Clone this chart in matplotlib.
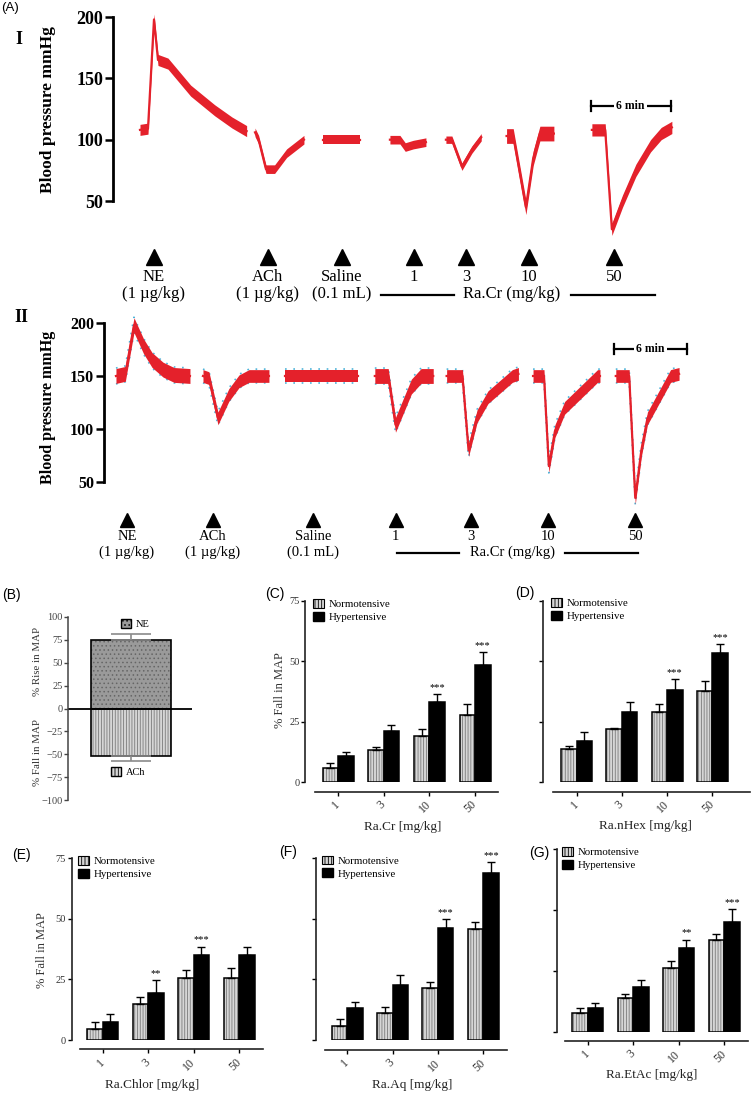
import numpy as np
import matplotlib.pyplot as plt
from matplotlib.patches import Patch
from matplotlib.transforms import blended_transform_factory

W, H = 751, 1093
RED = '#e4212b'
CYAN = '#4fb4da'
SERIF = 'Liberation Serif'
SANS = 'Liberation Sans'
plt.rcParams['font.family'] = SERIF
plt.rcParams['hatch.linewidth'] = 0.6

# ---------------- data ----------------
# (A) injections
inj_names = ['NE', 'ACh', 'Saline', '1', '3', '10', '50']
inj_doses = ['(1 µg/kg)', '(1 µg/kg)', '(0.1 mL)', '', '', '', '']

# (A-I) normotensive recording, key points (time in min, mmHg)
tr1_t = [[2.4, 3.0, 3.45, 3.75, 4.5, 6.2, 8.0, 9.3, 10.4],
         [11.03, 11.3, 11.85, 12.5, 13.4, 14.7],
         [16.1, 18.9],
         [21.15, 21.9, 22.3, 22.9, 23.85],
         [25.35, 25.8, 26.55, 27.3, 28.0],
         [29.9, 30.4, 31.35, 31.9, 32.4, 33.45],
         [36.3, 37.3, 37.8, 38.6, 39.6, 40.7, 41.5, 42.3]]
tr1_bp = [[108, 109, 198, 165, 162, 140, 124, 114, 107],
          [106, 100, 76, 76, 89, 100],
          [100, 100],
          [100, 100, 94, 96, 98],
          [100, 100, 78, 92, 102],
          [103, 103, 45, 85, 105, 105],
          [108, 108, 27, 50, 75, 95, 105, 110]]
tr1_band = [4.5, 3.5, 3.5, 3.5, 3.0, 6.0, 5.0]
tr1_inj = [3.45, 12.0, 17.55, 22.95, 26.85, 31.6, 37.95]

# (A-II) hypertensive recording
tr2_t = [[1.23, 2.0, 2.71, 3.5, 4.2, 5.1, 6.0, 7.31],
         [8.38, 8.87, 9.61, 10.5, 11.34, 12.16, 13.8],
         [15.12, 21.1],
         [22.5, 23.6, 24.2, 25.5, 26.3, 27.3],
         [28.4, 29.7, 30.2, 30.9, 31.8, 33.8, 34.3],
         [35.5, 36.4, 36.8, 37.3, 38.1, 40.8, 41.0],
         [42.3, 43.4, 43.9, 44.4, 44.9, 46.8, 47.5]]
tr2_bp = [[150, 152, 198, 178, 165, 156, 151, 150],
          [150, 148, 110, 132, 145, 150, 150],
          [150, 150],
          [150, 150, 104, 140, 150, 150],
          [150, 150, 80, 112, 130, 150, 152],
          [150, 150, 65, 98, 120, 150, 150],
          [150, 150, 35, 80, 110, 150, 152]]
tr2_band = [7, 6, 6, 7, 6, 6, 6]
tr2_inj = [2.14, 9.2, 17.4, 24.2, 30.4, 36.7, 43.9]

# (B)
b_names = ['NE', 'ACh']
b_values = [75, -52]
b_err = [6, 5]

# (C)-(G)
doses = ['1', '3', '10', '50']
c_normo = [6.0, 13.3, 19.3, 27.8]
c_normo_err = [2.1, 1.4, 2.6, 4.6]
c_hyper = [10.9, 21.2, 33.0, 48.5]
c_hyper_err = [1.8, 2.5, 3.5, 5.2]
c_stars = ['', '', '***', '***']

d_normo = [13.6, 21.9, 29.2, 37.7]
d_normo_err = [1.4, 0.4, 3.0, 4.2]
d_hyper = [17.2, 28.9, 38.1, 53.3]
d_hyper_err = [3.7, 4.2, 4.4, 3.7]
d_stars = ['', '', '***', '***']

e_normo = [4.5, 14.9, 25.4, 25.4]
e_normo_err = [3.0, 3.0, 3.5, 4.4]
e_hyper = [7.3, 19.6, 35.1, 35.1]
e_hyper_err = [3.4, 5.2, 3.4, 3.4]
e_stars = ['', '**', '***', '']

f_normo = [5.9, 11.0, 21.3, 45.7]
f_normo_err = [2.6, 2.7, 2.5, 2.9]
f_hyper = [13.1, 22.7, 46.3, 68.8]
f_hyper_err = [2.7, 4.1, 3.5, 4.5]
f_stars = ['', '', '***', '***']

g_normo = [7.5, 13.7, 26.2, 37.8]
g_normo_err = [2.1, 1.7, 2.8, 2.2]
g_hyper = [9.8, 18.4, 34.4, 45.1]
g_hyper_err = [2.2, 3.0, 3.4, 5.2]
g_stars = ['', '', '**', '***']

# ---------------- figure ----------------
fig = plt.figure(figsize=(W / 100, H / 100), dpi=100)


def add_px(left, top, right, bottom):
    return fig.add_axes([left / W, 1 - bottom / H, (right - left) / W, (bottom - top) / H])


def fy(py):
    return 1 - py / H


def ftext(px, py, s, **kw):
    fig.text(px / W, fy(py), s, **kw)


def trace_panel(ax, segs_t, segs_bp, bands, inj_t, rows, bar, rng, fs, cyan):
    for t, bp, h in zip(segs_t, segs_bp, bands):
        t = np.array(t)
        bp = np.array(bp, dtype=float)
        if cyan:
            ax.plot(t, bp - h - 0.5, color=CYAN, lw=1.2, ls=(0, (1, 4)), zorder=1)
            ax.plot(t, bp + h + 0.5, color=CYAN, lw=1.2, ls=(0, (1, 4)), zorder=1)
        ax.fill_between(t, bp - h, bp + h, color=RED, lw=0, zorder=2)
        ax.plot(t, bp, color=RED, lw=1.6, zorder=2)
    for s in ['top', 'right', 'bottom']:
        ax.spines[s].set_visible(False)
    ax.spines['left'].set_bounds(50, 200)
    ax.spines['left'].set_linewidth(2.0)
    ax.set_yticks([50, 100, 150, 200])
    ax.tick_params(axis='y', length=6, width=1.8, pad=1, labelsize=fs)
    for lab in ax.get_yticklabels():
        lab.set_fontweight('bold')
    ax.set_xticks([])
    tr = blended_transform_factory(ax.transData, fig.transFigure)
    ya, y1, y2 = rows
    ax.plot(inj_t, [fy(ya)] * len(inj_t), '^', color='black', ms=fs - 1,
            transform=tr, clip_on=False)
    for t, n, d in zip(inj_t, inj_names, inj_doses):
        ax.text(t, fy(y1), n, transform=tr, ha='center', va='center', fontsize=fs - 1)
        if d:
            ax.text(t, fy(y2), d, transform=tr, ha='center', va='center', fontsize=fs - 1)
    # Ra.Cr range
    l1, l2, xt, r1, r2, yl = rng
    ax.plot([l1, l2], [fy(yl)] * 2, color='black', lw=1.6, transform=tr, clip_on=False)
    ax.plot([r1, r2], [fy(yl)] * 2, color='black', lw=1.6, transform=tr, clip_on=False)
    ax.text(xt, fy(y2), 'Ra.Cr (mg/kg)', transform=tr, ha='center', va='center', fontsize=fs - 1)
    # 6 min scale bar
    b0, by = bar
    ax.plot([b0, b0 + 6], [fy(by)] * 2, color='black', lw=1.6, transform=tr, clip_on=False)
    for xb in (b0, b0 + 6):
        ax.plot([xb, xb], [fy(by - 5), fy(by + 5)], color='black', lw=1.6,
                transform=tr, clip_on=False)
    ax.text(b0 + 3, fy(by), '6 min', transform=tr, ha='center', va='center',
            fontsize=8.5, fontweight='bold',
            bbox=dict(facecolor='white', edgecolor='none', pad=1.5))


# (A-I)
ax1 = add_px(113, 8, 700, 300)
k1 = 1.227
ax1.set_ylim(200 - (300 - 17) / k1, 200 + (17 - 8) / k1)
ax1.set_xlim((113 - 108) / 13.33, (700 - 108) / 13.33)
trace_panel(ax1, tr1_t, tr1_bp, tr1_band, tr1_inj, (257, 277, 294),
            (36.2, 106), (20.5, 25.95, 30.3, 34.7, 41.0, 295), 13, False)

# (A-II)
ax2 = add_px(104, 315, 700, 560)
k2 = 1.06
ax2.set_ylim(200 - (560 - 323) / k2, 200 + (323 - 315) / k2)
ax2.set_xlim((104 - 101) / 12.17, (700 - 101) / 12.17)
trace_panel(ax2, tr2_t, tr2_bp, tr2_band, tr2_inj, (520, 537, 552),
            (42.15, 349), (24.3, 29.4, 33.8, 38.1, 44.1, 553), 11.5, True)

ftext(1, 8, '(A)', family=SANS, fontsize=9.5, va='center')
ftext(15, 40, 'I', fontsize=13, fontweight='bold', va='center')
ftext(14, 318, 'II', fontsize=13, fontweight='bold', va='center')
ftext(48, 110, 'Blood pressure mmHg', fontsize=12.5, fontweight='bold',
      rotation=90, ha='center', va='center')
ftext(48, 407, 'Blood pressure mmHg', fontsize=11.5, fontweight='bold',
      rotation=90, ha='center', va='center')

# (B)
NORMO_FC = '#d6d6d6'
axb = add_px(68, 617, 192, 800)
axb.set_xlim((68 - 131) / 80, (192 - 131) / 80)
axb.set_ylim(-100, 100)
b_fc = ['#9a9a9a', NORMO_FC]
b_hatch = ['....', '||||||']
b_hc = ['#666666', '#7a7a7a']
for v, e, fc, hc, ht in zip(b_values, b_err, b_fc, b_hc, b_hatch):
    axb.bar(0, v, 1.0, color=fc, edgecolor=hc, hatch=ht, lw=0)
    axb.bar(0, v, 1.0, fill=False, edgecolor='black', lw=1.2)
    lo, hi = (0, e) if v > 0 else (e, 0)
    axb.errorbar(0, v, yerr=[[lo], [hi]], fmt='none', ecolor='#8a8a8a',
                 elinewidth=1.2, capsize=14.5, capthick=1.2)
axb.axhline(0, color='black', lw=1.3)
for s in ['top', 'right', 'bottom']:
    axb.spines[s].set_visible(False)
axb.spines['left'].set_linewidth(1.1)
axb.spines['left'].set_color('#444444')
axb.set_yticks(np.arange(-100, 101, 25))
axb.tick_params(axis='y', length=3, width=1, pad=1, labelsize=7.5, labelcolor='#444444',
                color='#444444')
axb.set_xticks([])
leg1 = axb.legend([Patch(facecolor='#9a9a9a', edgecolor='black', hatch='....')], [b_names[0]],
                  loc='center left', bbox_to_anchor=(121 / W, fy(624)),
                  bbox_transform=fig.transFigure, frameon=False, fontsize=7.5,
                  handlelength=1.0, handleheight=0.9, handletextpad=0.4,
                  borderpad=0, borderaxespad=0)
axb.add_artist(leg1)
axb.legend([Patch(facecolor=NORMO_FC, edgecolor='black', hatch='|||||')], [b_names[1]],
           loc='center left', bbox_to_anchor=(111 / W, fy(772)),
           bbox_transform=fig.transFigure, frameon=False, fontsize=7.5,
           handlelength=1.0, handleheight=0.9, handletextpad=0.4,
           borderpad=0, borderaxespad=0)
ftext(2, 595, '(B)', family=SANS, fontsize=10, va='center')
ftext(37, 662, '% Rise in MAP', rotation=90, ha='center', va='center', fontsize=7.8,
      color='#333333')
ftext(37, 753, '% Fall in MAP', rotation=90, ha='center', va='center', fontsize=7.8,
      color='#333333')


def bar_panel(geom, normo, nerr, hyper, herr, stars, ylabels, leg_xy):
    spine, y0, y75, xline, t1, step, xs, xe = geom
    ax = add_px(spine, y75, xe, y0)
    ax.set_xlim((spine - t1) / step, (xe - t1) / step)
    ax.set_ylim(0, 75)
    w = 15.5 / step
    x = np.arange(len(doses))
    ax.bar(x - w / 2, normo, w, color=NORMO_FC, edgecolor='#7a7a7a', hatch='||||||', lw=0)
    ax.bar(x - w / 2, normo, w, fill=False, edgecolor='black', lw=1.1)
    ax.bar(x + w / 2, hyper, w, color='black', edgecolor='black', lw=1.1)
    ax.errorbar(x - w / 2, normo, yerr=[np.zeros(len(x)), nerr], fmt='none', ecolor='black',
                elinewidth=1, capsize=2.8, capthick=1)
    ax.errorbar(x + w / 2, hyper, yerr=[np.zeros(len(x)), herr], fmt='none', ecolor='black',
                elinewidth=1, capsize=2.8, capthick=1)
    for xi, h, e, s in zip(x, hyper, herr, stars):
        if s:
            ax.text(xi + w / 2, h + e + 2.8, s, ha='center', va='center', fontsize=7.5)
    for s in ['top', 'right']:
        ax.spines[s].set_visible(False)
    ax.spines['bottom'].set_position(('outward', (xline - y0) * 0.72))
    ax.spines['bottom'].set_bounds((xs - t1) / step, (xe - t1) / step)
    ax.spines['left'].set_bounds(0, 75)
    for s in ['left', 'bottom']:
        ax.spines[s].set_linewidth(1.2)
        ax.spines[s].set_color('#222222')
    ax.set_yticks([0, 25, 50, 75])
    ax.tick_params(axis='y', length=3, width=1, pad=1, labelsize=7.5,
                   labelcolor='#333333', labelleft=ylabels)
    ax.set_xticks(x)
    ax.set_xticklabels(doses, rotation=45, ha='right', va='center', rotation_mode='anchor')
    ax.tick_params(axis='x', length=3, width=1, pad=5, labelsize=8.5, labelcolor='#333333')
    ax.legend([Patch(facecolor=NORMO_FC, edgecolor='black', hatch='|||||', lw=0.8),
               Patch(facecolor='black', edgecolor='black')],
              ['Normotensive', 'Hypertensive'],
              loc='upper left', bbox_to_anchor=(leg_xy[0] / W, fy(leg_xy[1])),
              bbox_transform=fig.transFigure, frameon=False, fontsize=7.8,
              handlelength=1.0, handleheight=0.9, handletextpad=0.45,
              labelspacing=0.25, borderpad=0, borderaxespad=0)
    return ax


bar_panel((305, 782.3, 600.7, 791.7, 338, 45.7, 315, 498),
          c_normo, c_normo_err, c_hyper, c_hyper_err, c_stars, True, (313, 599))
bar_panel((542.7, 782.3, 600.7, 791.7, 576.7, 45.2, 552.7, 750),
          d_normo, d_normo_err, d_hyper, d_hyper_err, d_stars, False, (551, 598))
bar_panel((71.7, 1040, 858.3, 1049.3, 102.7, 45.5, 80, 262.7),
          e_normo, e_normo_err, e_hyper, e_hyper_err, e_stars, True, (78, 856))
bar_panel((316, 1040, 858.3, 1050, 347.3, 45.3, 325, 506.7),
          f_normo, f_normo_err, f_hyper, f_hyper_err, f_stars, False, (322, 855.5))
bar_panel((556.7, 1031.7, 849.3, 1041, 587.7, 45.5, 565, 748),
          g_normo, g_normo_err, g_hyper, g_hyper_err, g_stars, False, (562, 847))

xlab = [(403, 827, 'Ra.Cr [mg/kg]'), (645, 826, 'Ra.nHex [mg/kg]'),
        (151.7, 1085, 'Ra.Chlor [mg/kg]'), (411.7, 1085, 'Ra.Aq [mg/kg]'),
        (651.7, 1075, 'Ra.EtAc [mg/kg]')]
for px, py, s in xlab:
    ftext(px, py, s, ha='center', va='center', fontsize=9.5, color='#222222')
ftext(280, 690, '% Fall in MAP', rotation=90, ha='center', va='center', fontsize=9,
      color='#333333')
ftext(41.7, 950, '% Fall in MAP', rotation=90, ha='center', va='center', fontsize=9,
      color='#333333')
for px, py, s in [(265, 594, '(C)'), (515, 593, '(D)'), (12, 855, '(E)'),
                  (279, 852, '(F)'), (529, 853, '(G)')]:
    ftext(px, py, s, family=SANS, fontsize=10, va='center')

fig.savefig('out.png', dpi=100)
